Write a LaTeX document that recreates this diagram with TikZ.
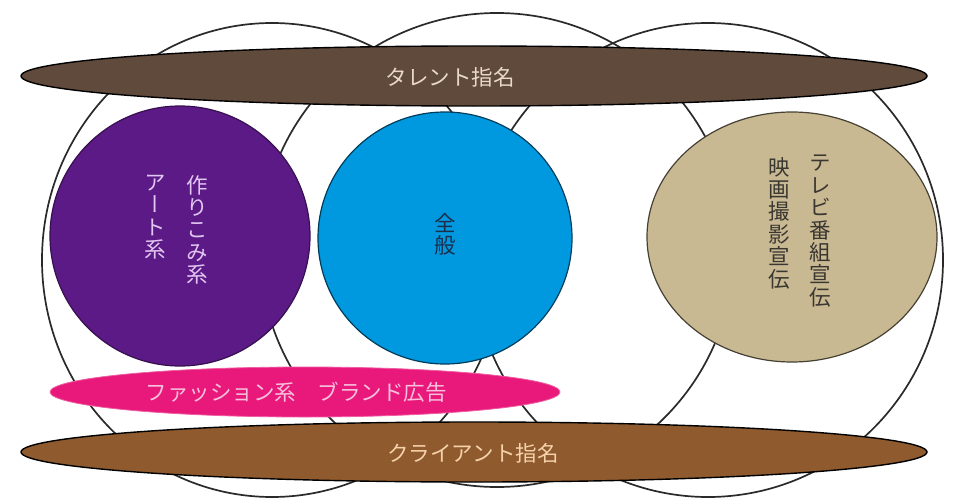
\documentclass[tikz,border=0pt]{standalone}
\usepackage{fontspec}
\newfontfamily\jp{Noto Sans CJK JP}
\newfontfamily\jpv[RawFeature=+vert]{Noto Sans CJK JP}
\usetikzlibrary{shapes.geometric}
\definecolor{ringc}{HTML}{2A2A2A}
\definecolor{talentc}{HTML}{5F4A3B}
\definecolor{talenttxt}{HTML}{EAD9C8}
\definecolor{clientc}{HTML}{8E5A2E}
\definecolor{clienttxt}{HTML}{F6D2AA}
\definecolor{purplec}{HTML}{5B1A86}
\definecolor{purpletxt}{HTML}{E2C6F2}
\definecolor{bluec}{HTML}{0099E0}
\definecolor{bluetxt}{HTML}{1C2E4C}
\definecolor{tanc}{HTML}{C8B993}
\definecolor{tantxt}{HTML}{3A3630}
\definecolor{pinkc}{HTML}{E8197A}
\definecolor{pinktxt}{HTML}{F8C0DC}
\begin{document}
\begin{tikzpicture}[x=1pt,y=-1pt,
  bigring/.style={ellipse, draw=ringc, line width=1.7pt, inner sep=0pt},
  band/.style={ellipse, draw=black, line width=1.4pt, inner sep=0pt},
  blob/.style={ellipse, line width=1.2pt, inner sep=0pt},
  htxt/.style={inner sep=0pt, font=\fontsize{21.5}{22}\selectfont\jp},
  vtxt/.style={inner sep=0pt, anchor=north, align=center, font=\fontsize{21.5}{22.4}\selectfont\jpv}]
\useasboundingbox (0,0) rectangle (960,503);
\fill[white] (0,0) rectangle (960,503);
% big outline circles
\node[bigring, minimum width=460pt, minimum height=474pt] (ringL) at (272,260) {};
\node[bigring, minimum width=474pt, minimum height=474pt] (ringM) at (497,250) {};
\node[bigring, minimum width=470pt, minimum height=474pt] (ringR) at (708,260) {};
% bands
\node[band, fill=talentc, minimum width=906pt, minimum height=60pt] (talent) at (474,76) {};
\node[band, fill=clientc, minimum width=906pt, minimum height=60pt] (client) at (474,452) {};
% coloured circles
\node[blob, fill=purplec, draw=purplec!60!black, minimum width=260pt, minimum height=260pt] (art) at (180,236) {};
\node[blob, fill=bluec, draw=bluec!40!black, minimum width=254pt, minimum height=252pt] (general) at (445,238) {};
\node[blob, fill=tanc, draw=tanc!35!black, minimum width=290pt, minimum height=250pt] (tv) at (792,237) {};
% pink band
\node[ellipse, fill=pinkc, draw=pinkc!70!white, line width=0.8pt, inner sep=0pt, minimum width=510pt, minimum height=50pt] (fashion) at (305,392) {};
% texts
\node[htxt, text=talenttxt] (talentT) at (450,77) {タレント指名};
\node[htxt, text=clienttxt] (clientT) at (473,453) {クライアント指名};
\node[htxt, text=pinktxt] (fashionT) at (296,392) {ファッション系　ブランド広告};
\node[vtxt, text=purpletxt] (artA) at (197,175) {作\\り\\こ\\み\\系};
\node[vtxt, text=purpletxt] (artB) at (155,175) {ア\\ー\\ト\\系};
\node[vtxt, text=bluetxt] (generalT) at (445,213) {全\\般};
\node[vtxt, text=tantxt] (tvA) at (820,155) {テ\\レ\\ビ\\番\\組\\宣\\伝};
\node[vtxt, text=tantxt] (tvB) at (779,157) {映\\画\\撮\\影\\宣\\伝};
\end{tikzpicture}
\end{document}
